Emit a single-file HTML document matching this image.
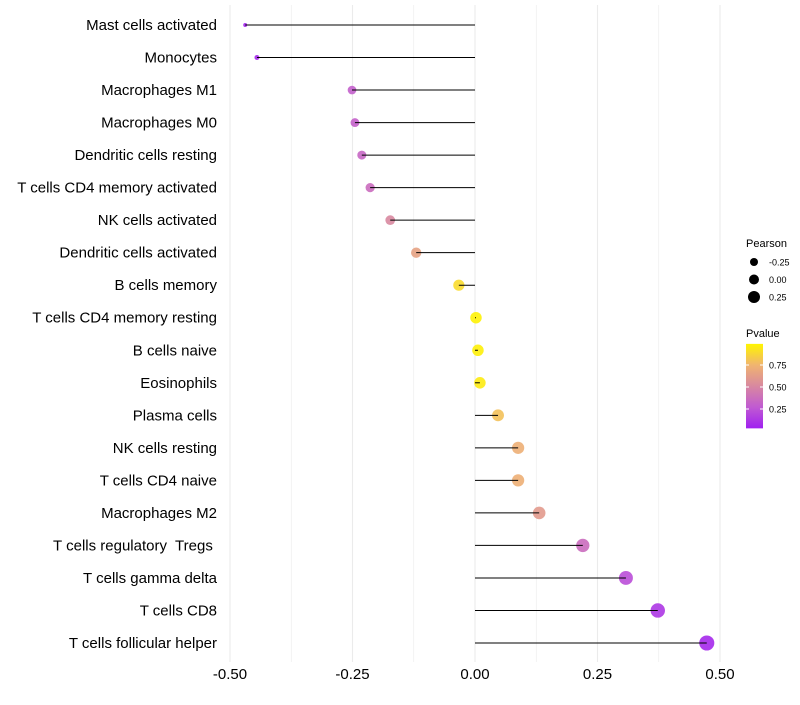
<!DOCTYPE html>
<html><head><meta charset="utf-8"><style>
body{margin:0;background:#fff;font-family:"Liberation Sans",sans-serif}
text{white-space:pre}
</style></head><body>
<svg id="chart" width="800" height="700" xmlns="http://www.w3.org/2000/svg"></svg>
<script>
const categories=["Mast cells activated","Monocytes","Macrophages M1","Macrophages M0","Dendritic cells resting","T cells CD4 memory activated","NK cells activated","Dendritic cells activated","B cells memory","T cells CD4 memory resting","B cells naive","Eosinophils","Plasma cells","NK cells resting","T cells CD4 naive","Macrophages M2","T cells regulatory  Tregs ","T cells gamma delta","T cells CD8","T cells follicular helper"];
const pearson=[-0.469,-0.445,-0.251,-0.245,-0.231,-0.214,-0.173,-0.120,-0.033,0.002,0.006,0.010,0.047,0.088,0.088,0.131,0.220,0.308,0.373,0.473];
const pvalue=[0.02,0.04,0.28,0.29,0.32,0.35,0.5,0.65,0.9,0.99,0.98,0.96,0.8,0.72,0.72,0.6,0.35,0.2,0.1,0.04];
const xTicks=[-0.5,-0.25,0,0.25,0.5];
const xTickLabels=["-0.50","-0.25","0.00","0.25","0.50"];
const sizeLegend=[-0.25,0,0.25];
const sizeLegendLabels=["-0.25","0.00","0.25"];
const pTicks=[0.25,0.5,0.75];
const pTickLabels=["0.25","0.50","0.75"];

const svg=document.getElementById('chart');
const NS="http://www.w3.org/2000/svg";
function mk(t,a,parent){const e=document.createElementNS(NS,t);for(const k in a)e.setAttribute(k,a[k]);(parent||svg).appendChild(e);return e;}
const x=v=>475+v*490;
const y=i=>25+i*(643-25)/(categories.length-1);
const r=v=>1.3+6.4*Math.sqrt(Math.max(v+0.48,0));
const stops=[[0,[160,32,240]],[0.25,[192,90,210]],[0.5,[216,136,160]],[0.75,[240,180,112]],[1,[255,245,0]]];
function col(p){for(let i=1;i<stops.length;i++){if(p<=stops[i][0]){const a=stops[i-1],b=stops[i];const t=(p-a[0])/(b[0]-a[0]);const c=a[1].map((v,j)=>Math.round(v+(b[1][j]-v)*t));return `rgb(${c})`;}}return 'rgb(255,245,0)';}

for(let v=-0.5;v<=0.5001;v+=0.125){
 const g=mk('line',{x1:x(v),x2:x(v),y1:5,y2:662,stroke:'#ebebeb','stroke-width':Math.abs((v*4)%1)<1e-6?1.1:0.6});
 
}
categories.forEach((c,i)=>{
 const t=mk('text',{x:217,y:y(i)+5,'text-anchor':'end','font-size':15,fill:'#000'});t.textContent=c;
 
 const pt=mk('circle',{cx:x(pearson[i]),cy:y(i),r:r(pearson[i]),fill:col(pvalue[i]),'fill-opacity':0.9});
 
 const ln=mk('line',{x1:x(0),x2:x(pearson[i]),y1:y(i),y2:y(i),stroke:'#000','stroke-width':1});
 
});
xTicks.forEach((v,i)=>{
 const t=mk('text',{x:x(v),y:679,'text-anchor':'middle','font-size':15,fill:'#000'});t.textContent=xTickLabels[i];
 
});
let t=mk('text',{x:746,y:247,'font-size':11});t.textContent='Pearson';

sizeLegend.forEach((v,i)=>{
 const cy=262+i*17.5;
 const c=mk('circle',{cx:754,cy:cy,r:4+i,fill:'#000'});
 
 const l=mk('text',{x:769,y:cy+3.5,'font-size':9});l.textContent=sizeLegendLabels[i];
 
});
t=mk('text',{x:746,y:337,'font-size':11});t.textContent='Pvalue';

const defs=mk('defs',{});const lg=mk('linearGradient',{id:'pg',x1:0,y1:1,x2:0,y2:0},defs);
stops.forEach(s=>mk('stop',{offset:s[0],'stop-color':`rgb(${s[1]})`},lg));
const py=p=>431-p*88;
const cb=mk('rect',{x:746,y:py(0.99),width:17,height:py(0.03)-py(0.99),fill:'url(#pg)'});

pTicks.forEach((p,i)=>{
 mk('line',{x1:746,x2:749,y1:py(p),y2:py(p),stroke:'#fff'});mk('line',{x1:760,x2:763,y1:py(p),y2:py(p),stroke:'#fff'});
 const l=mk('text',{x:769,y:py(p)+3.5,'font-size':9});l.textContent=pTickLabels[i];
 
});
</script>
</body></html>
